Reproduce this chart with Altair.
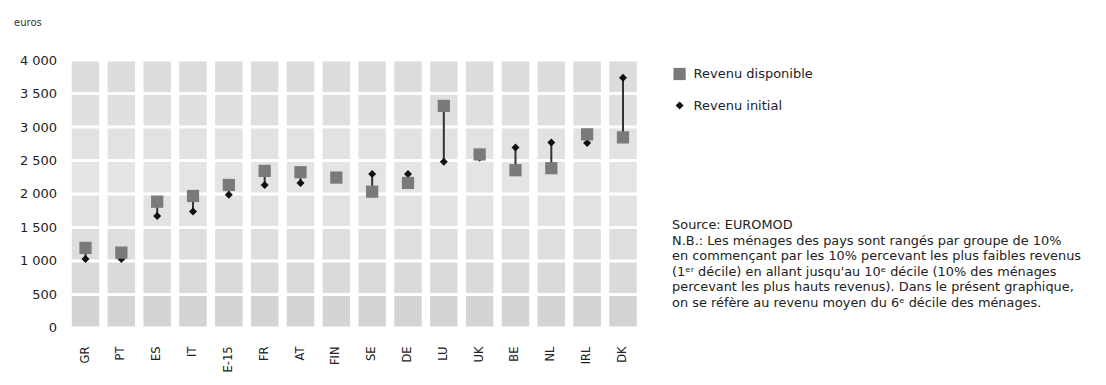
import altair as alt
import pandas as pd

# ---- data ----
pays = ["GR", "PT", "ES", "IT", "UE-15", "FR", "AT", "FIN", "SE", "DE",
        "LU", "UK", "BE", "NL", "IRL", "DK"]
revenu_disponible = [1195, 1125, 1885, 1970, 2135, 2345, 2325, 2245, 2035, 2165,
                     3315, 2590, 2355, 2385, 2890, 2845]
revenu_initial = [1030, 1030, 1670, 1740, 1990, 2135, 2165, 2240, 2300, 2300,
                  2480, 2540, 2695, 2770, 2760, 3735]
y_ticks = [0, 500, 1000, 1500, 2000, 2500, 3000, 3500, 4000]
band_lo = [0, 500, 1000, 1500, 2000, 2500, 3000, 3500]
band_fill = ["#d4d4d4", "#dadada", "#dedede", "#e2e2e2", "#e4e4e4",
             "#e2e2e2", "#dfdfdf", "#dcdcdc"]
notes = ("Source: EUROMOD\n"
         "N.B.: Les ménages des pays sont rangés par groupe de 10%\n"
         "en commençant par les 10% percevant les plus faibles revenus\n"
         "(1ᵉʳ décile) en allant jusqu'au 10ᵉ décile (10% des ménages\n"
         "percevant les plus hauts revenus). Dans le présent graphique,\n"
         "on se réfère au revenu moyen du 6ᵉ décile des ménages.")

FONT = "DejaVu Sans"

df = pd.DataFrame({"pays": pays,
                   "Revenu disponible": revenu_disponible,
                   "Revenu initial": revenu_initial})
cells = pd.DataFrame([{"pays": p, "lo": lo, "hi": lo + 500, "fill": f}
                      for p in pays for lo, f in zip(band_lo, band_fill)])
notes_df = pd.DataFrame({"t": [notes]})

x_scale = alt.Scale(paddingInner=0.233, paddingOuter=0.1165)
x_axis = alt.Axis(labelAngle=270, labelFont=FONT, labelFontSize=11.5,
                  labelColor="#222", labelPadding=18, ticks=False,
                  domain=False, grid=False)
y_scale = alt.Scale(domain=[0, 4000], nice=False)
y_axis = alt.Axis(values=y_ticks, labelOverlap=False, labelFont=FONT,
                  labelFontSize=13, labelColor="#222", labelPadding=11,
                  ticks=False, domain=False, grid=False,
                  labelExpr="replace(format(datum.value, ',d'), ',', ' ')",
                  title="euros", titleAngle=0, titleAlign="left",
                  titleBaseline="middle", titleX=-54, titleY=-38,
                  titleFont=FONT, titleFontSize=10, titleFontWeight="normal",
                  titleColor="#333")


def X():
    return alt.X("pays:N", sort=pays, title=None, scale=x_scale, axis=x_axis)


def Y(field):
    return alt.Y(field, title="euros", scale=y_scale, axis=y_axis)


bg = alt.Chart(cells).mark_bar(yOffset=-1.5, y2Offset=1.5).encode(
    x=X(),
    y=Y("lo:Q"),
    y2="hi:Q",
    fill=alt.Fill("fill:N", scale=None),
)

rule = alt.Chart(df).mark_rule(color="#333333", strokeWidth=2).encode(
    x=X(),
    y=Y("Revenu disponible:Q"),
    y2="Revenu initial:Q",
)

series = ["Revenu disponible", "Revenu initial"]
leg = alt.Legend(orient="none", legendX=605, legendY=7,
                 labelFont=FONT, labelFontSize=13, labelColor="#222",
                 symbolSize=45, labelOffset=7, rowPadding=18, padding=0)
pts = alt.Chart(df).transform_fold(
    ["Revenu initial", "Revenu disponible"], as_=["serie", "valeur"]
).mark_point(filled=True, opacity=1).encode(
    x=X(),
    y=Y("valeur:Q"),
    color=alt.Color("serie:N", title=None,
                    scale=alt.Scale(domain=series, range=["#7a7a7a", "#111111"]),
                    legend=leg),
    shape=alt.Shape("serie:N", title=None,
                    scale=alt.Scale(domain=series, range=["square", "diamond"]),
                    legend=leg),
    size=alt.Size("serie:N", scale=alt.Scale(domain=series, range=[150, 64]),
                  legend=None),
)

txt = alt.Chart(notes_df).mark_text(
    align="left", baseline="top", lineBreak="\n", lineHeight=15.6,
    font=FONT, fontSize=12.9, color="#222"
).encode(text="t:N", x=alt.value(604.5), y=alt.value(159))

chart = alt.layer(bg, rule, pts, txt).properties(
    width=573.3, height=268, background="white",
    autosize=alt.AutoSizeParams(type="none"),
    padding={"left": 59.6, "top": 52, "right": 455, "bottom": 45},
).configure_view(stroke="transparent", strokeWidth=0)

chart.save("out.html", embed_options={"renderer": "svg", "actions": False})
